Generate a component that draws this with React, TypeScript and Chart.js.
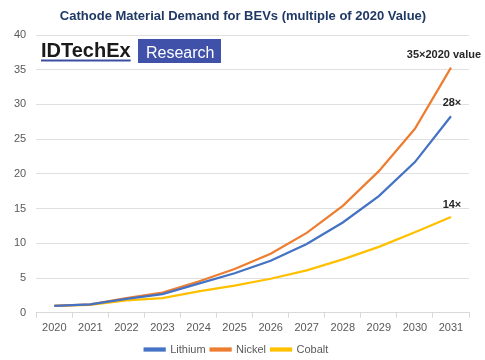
import React, { useEffect, useRef } from "react";
import { Chart, registerables } from "chart.js";

Chart.register(...registerables);

const years = ["2020", "2021", "2022", "2023", "2024", "2025", "2026", "2027", "2028", "2029", "2030", "2031"];
const lithium = [1, 1.2, 2.0, 2.7, 4.2, 5.7, 7.5, 9.9, 13.0, 16.8, 21.7, 28.3];
const nickel = [1, 1.2, 2.1, 2.9, 4.5, 6.3, 8.5, 11.5, 15.4, 20.4, 26.5, 35.3];
const cobalt = [1, 1.15, 1.8, 2.1, 3.1, 3.9, 4.9, 6.1, 7.7, 9.5, 11.6, 13.8];
const endLabels = ["28×", "35×2020 value", "14×"];
const titleText = "Cathode Material Demand for BEVs (multiple of 2020 Value)";

const FONT = "'Liberation Sans', Arial, sans-serif";

const overlayPlugin = {
  id: "overlay",
  afterDatasetsDraw(chart: any) {
    const ctx = chart.ctx;
    ctx.save();
    // Title
    ctx.font = `bold 13px ${FONT}`;
    ctx.fillStyle = "#1f3864";
    ctx.textAlign = "center";
    ctx.textBaseline = "middle";
    ctx.fillText(titleText, 243, 16);
    // Logo
    ctx.font = `bold 20px ${FONT}`;
    ctx.fillStyle = "#1a1a1a";
    ctx.textBaseline = "alphabetic";
    ctx.textAlign = "left";
    const lx = 41;
    const ly = 57;
    ctx.fillText("IDTechEx", lx, ly);
    const w = ctx.measureText("IDTechEx").width;
    ctx.fillStyle = "#3b4fa0";
    ctx.fillRect(lx, ly + 2.5, w, 2);
    ctx.fillStyle = "#3f51a8";
    ctx.fillRect(138, 39, 83, 24);
    ctx.fillStyle = "#ffffff";
    ctx.font = `400 16px ${FONT}`;
    ctx.fillText("Research", 146, 57.5);
    // end labels
    const xs = chart.scales.x;
    const ys = chart.scales.y;
    const x = xs.getPixelForValue(years.length - 1);
    ctx.font = `bold 11px ${FONT}`;
    ctx.fillStyle = "#262626";
    ctx.textAlign = "center";
    ctx.textBaseline = "middle";
    ctx.fillText(endLabels[1], x - 7, ys.getPixelForValue(nickel[nickel.length - 1]) - 13);
    ctx.fillText(endLabels[0], x + 1, ys.getPixelForValue(lithium[lithium.length - 1]) - 13);
    ctx.fillText(endLabels[2], x + 1, ys.getPixelForValue(cobalt[cobalt.length - 1]) - 12);
    ctx.restore();
  },
};

export default function App() {
  const ref = useRef<HTMLCanvasElement>(null);
  useEffect(() => {
    const chart = new Chart(ref.current!, {
      type: "line",
      data: {
        labels: years,
        datasets: [
          { label: "Lithium", data: lithium, borderColor: "#4472c4", backgroundColor: "#4472c4", borderWidth: 2.25, pointRadius: 0, tension: 0 },
          { label: "Nickel", data: nickel, borderColor: "#ed7d31", backgroundColor: "#ed7d31", borderWidth: 2.25, pointRadius: 0, tension: 0 },
          { label: "Cobalt", data: cobalt, borderColor: "#ffc000", backgroundColor: "#ffc000", borderWidth: 2.25, pointRadius: 0, tension: 0 },
        ],
      },
      options: {
        animation: false,
        responsive: true,
        maintainAspectRatio: false,
        layout: { padding: { left: 4, right: 16, top: 35, bottom: -5 } },
        plugins: {
          title: { display: false },
          legend: {
            position: "bottom",
            labels: {
              boxWidth: 20,
              boxHeight: 2,
              color: "#595959",
              font: { family: FONT, size: 11 },
              padding: 5,
            },
          },
          tooltip: { enabled: false },
        },
        scales: {
          x: {
            offset: true,
            grid: { display: true, drawOnChartArea: false, drawTicks: true, tickLength: 5, color: "#d9d9d9", offset: true },
            border: { display: true, color: "#d9d9d9" },
            ticks: { color: "#595959", font: { family: FONT, size: 11 }, padding: 4, maxRotation: 0 },
          },
          y: {
            min: 0,
            max: 40,
            ticks: { stepSize: 5, color: "#595959", font: { family: FONT, size: 11 }, padding: 10 },
            grid: { color: "#e0e0e0", drawTicks: false },
            border: { display: false },
          },
        },
      },
      plugins: [overlayPlugin],
    });
    return () => chart.destroy();
  }, []);
  return (
    <div style={{ position: "fixed", left: 0, top: 0, width: 485, height: 360, background: "#fff" }}>
      <canvas ref={ref} />
    </div>
  );
}
